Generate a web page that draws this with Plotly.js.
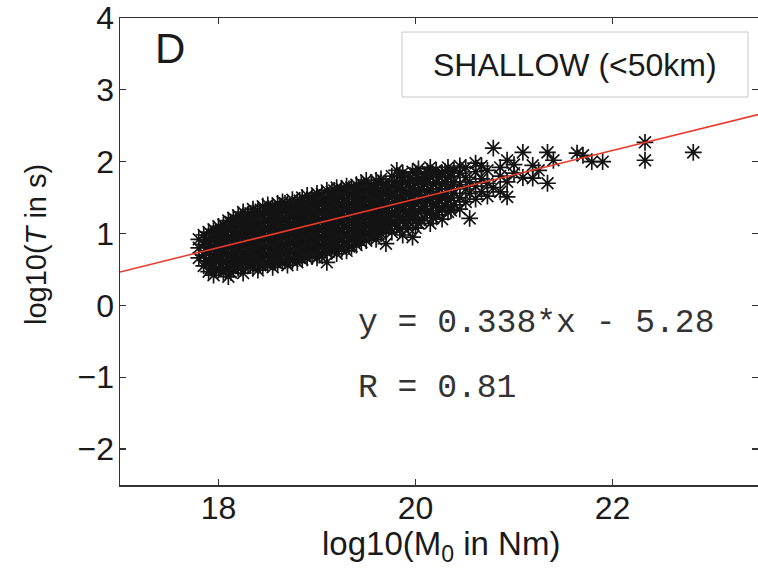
<!DOCTYPE html>
<html>
<head>
<meta charset="utf-8">
<script src="https://cdn.plot.ly/plotly-3.0.1.min.js"></script>
<style>html,body{margin:0;padding:0;background:#fff;overflow:hidden}</style>
</head>
<body>
<div id="chart" style="width:758px;height:568px"></div>
<script>
// ---- data ----
// dense cluster: column positions (log10 M0) and the log10 T values in each column
const clusterX = [17.80,17.85,17.90,17.95,18.00,18.05,18.10,18.15,18.20,18.25,18.30,18.35,18.40,18.45,18.50,18.55,18.60,18.65,18.70,18.75,18.80,18.85,18.90,18.95,19.00,19.05,19.10,19.15,19.20,19.25,19.30,19.35,19.40,19.45,19.50,19.55,19.60,19.65,19.70,19.76,19.81,19.87,19.93,19.97,20.03,20.09,20.15,20.21,20.27,20.33,20.39,20.45,20.51,20.55,20.61,20.67,20.73,20.79,20.86,20.93];
const clusterY = [
 [0.66,0.80,0.92],
 [0.55,0.70,0.85,0.98],
 [0.47,0.62,0.75,0.88,1.02],
 [0.42,0.58,0.70,0.82,0.95,1.06],
 [0.50,0.64,0.78,0.90,1.00,1.10],
 [0.46,0.60,0.72,0.85,0.97,1.12],
 [0.40,0.54,0.68,0.80,0.92,1.04,1.18],
 [0.50,0.62,0.74,0.86,0.98,1.10,1.22],
 [0.52,0.65,0.77,0.90,1.02,1.14,1.25],
 [0.45,0.60,0.72,0.84,0.96,1.08,1.20,1.30],
 [0.55,0.67,0.80,0.92,1.04,1.16,1.27],
 [0.52,0.64,0.76,0.88,1.00,1.12,1.24,1.34],
 [0.49,0.62,0.74,0.86,0.98,1.10,1.22,1.32],
 [0.55,0.66,0.78,0.90,1.02,1.14,1.26,1.38],
 [0.57,0.70,0.82,0.94,1.06,1.18,1.30,1.40],
 [0.53,0.66,0.78,0.90,1.02,1.14,1.26,1.37],
 [0.58,0.70,0.82,0.94,1.06,1.18,1.30,1.42],
 [0.60,0.72,0.84,0.96,1.08,1.20,1.32,1.44],
 [0.56,0.68,0.80,0.92,1.04,1.16,1.28,1.40],
 [0.62,0.74,0.86,0.98,1.10,1.22,1.34,1.47],
 [0.60,0.72,0.84,0.96,1.08,1.20,1.32,1.44],
 [0.64,0.76,0.88,1.00,1.12,1.24,1.36,1.50],
 [0.66,0.78,0.90,1.02,1.14,1.26,1.38,1.53],
 [0.68,0.80,0.92,1.04,1.16,1.28,1.40,1.50],
 [0.66,0.78,0.90,1.02,1.14,1.26,1.38,1.50,1.56],
 [0.72,0.84,0.96,1.08,1.20,1.32,1.44,1.55],
 [0.60,0.74,0.86,0.98,1.10,1.22,1.34,1.46,1.60],
 [0.76,0.88,1.00,1.12,1.24,1.36,1.48,1.58],
 [0.72,0.84,0.96,1.08,1.20,1.32,1.44,1.56,1.64],
 [0.78,0.90,1.02,1.14,1.26,1.38,1.50,1.62],
 [0.76,0.88,1.00,1.12,1.24,1.36,1.48,1.60,1.66],
 [0.82,0.94,1.06,1.18,1.30,1.42,1.54,1.64],
 [0.84,0.96,1.08,1.20,1.32,1.44,1.56,1.68],
 [0.88,1.00,1.12,1.24,1.36,1.48,1.60,1.70],
 [0.90,1.02,1.14,1.26,1.38,1.50,1.62,1.74],
 [0.96,1.08,1.20,1.32,1.44,1.56,1.68],
 [0.92,1.04,1.16,1.28,1.40,1.52,1.64,1.74],
 [1.00,1.12,1.24,1.36,1.48,1.60,1.76],
 [0.86,1.06,1.18,1.30,1.42,1.54,1.68],
 [1.02,1.14,1.28,1.40,1.52,1.66,1.80],
 [1.10,1.24,1.36,1.50,1.64,1.88],
 [0.98,1.18,1.32,1.46,1.60,1.74,1.84],
 [1.08,1.26,1.40,1.54,1.70],
 [0.95,1.20,1.34,1.48,1.64,1.86],
 [1.14,1.30,1.44,1.58,1.76,1.90],
 [1.22,1.38,1.52,1.68,1.82],
 [1.14,1.32,1.48,1.62,1.78,1.92],
 [1.26,1.42,1.56,1.72,1.88],
 [1.20,1.36,1.52,1.68,1.84],
 [1.30,1.46,1.62,1.78,1.92],
 [1.40,1.56,1.72,1.88],
 [1.34,1.50,1.68,1.84,1.94],
 [1.44,1.62,1.78,1.92],
 [1.21,1.56,1.72],
 [1.48,1.66,1.86,1.98],
 [1.58,1.76,1.94],
 [1.52,1.70,1.88],
 [1.64,2.19],
 [1.58,1.80,1.92],
 [1.51,1.72,2.02]
];
// interior of the dense core (points hidden between the columns above)
const coreX = [17.875,17.925,17.975,18.025,18.075,18.125,18.175,18.225,18.275,18.325,18.375,18.425,18.475,18.525,18.575,18.625,18.675,18.725,18.775,18.825,18.875,18.925,18.975,19.025,19.075,19.125,19.175,19.225,19.275,19.325,19.375,19.425,19.475,19.525,19.575,19.625,19.675,19.73,19.79,19.84,19.90,19.95,20.00,20.06,20.12,20.18,20.24,20.30,20.36];
const coreY = [
 [0.62,0.76,0.90],
 [0.52,0.66,0.80,0.94],
 [0.50,0.64,0.76,0.88,1.00],
 [0.54,0.68,0.80,0.92,1.04],
 [0.50,0.62,0.74,0.86,0.98,1.08],
 [0.46,0.58,0.70,0.82,0.94,1.06,1.16],
 [0.56,0.68,0.80,0.92,1.04,1.16],
 [0.52,0.64,0.76,0.88,1.00,1.12,1.22],
 [0.58,0.70,0.82,0.94,1.06,1.18],
 [0.56,0.68,0.80,0.92,1.04,1.16,1.28],
 [0.58,0.70,0.82,0.94,1.06,1.18,1.30],
 [0.56,0.68,0.80,0.92,1.04,1.16,1.28],
 [0.60,0.72,0.84,0.96,1.08,1.20,1.32],
 [0.62,0.74,0.86,0.98,1.10,1.22,1.34],
 [0.60,0.72,0.84,0.96,1.08,1.20,1.32],
 [0.64,0.76,0.88,1.00,1.12,1.24,1.36],
 [0.62,0.74,0.86,0.98,1.10,1.22,1.34,1.42],
 [0.64,0.76,0.88,1.00,1.12,1.24,1.36],
 [0.68,0.80,0.92,1.04,1.16,1.28,1.40],
 [0.66,0.78,0.90,1.02,1.14,1.26,1.38,1.46],
 [0.70,0.82,0.94,1.06,1.18,1.30,1.42],
 [0.72,0.84,0.96,1.08,1.20,1.32,1.44],
 [0.74,0.86,0.98,1.10,1.22,1.34,1.46],
 [0.70,0.82,0.94,1.06,1.18,1.30,1.42,1.50],
 [0.78,0.90,1.02,1.14,1.26,1.38,1.50],
 [0.80,0.92,1.04,1.16,1.28,1.40,1.52],
 [0.78,0.90,1.02,1.14,1.26,1.38,1.50,1.60],
 [0.82,0.94,1.06,1.18,1.30,1.42,1.54],
 [0.84,0.96,1.08,1.20,1.32,1.44,1.56],
 [0.82,0.94,1.06,1.18,1.30,1.42,1.54,1.62],
 [0.88,1.00,1.12,1.24,1.36,1.48,1.60],
 [0.92,1.04,1.16,1.28,1.40,1.52,1.64],
 [0.96,1.08,1.20,1.32,1.44,1.56,1.66],
 [0.98,1.10,1.22,1.34,1.46,1.58],
 [1.02,1.14,1.26,1.38,1.50,1.62],
 [1.00,1.12,1.24,1.36,1.48,1.60,1.70],
 [1.08,1.20,1.32,1.44,1.56,1.68],
 [1.10,1.24,1.38,1.52,1.64],
 [1.16,1.30,1.44,1.58,1.72],
 [1.06,1.22,1.38,1.52,1.68,1.80],
 [1.14,1.30,1.44,1.58,1.72],
 [1.22,1.38,1.56,1.78],
 [1.08,1.28,1.42,1.54,1.70,1.84],
 [1.18,1.34,1.48,1.62,1.76],
 [1.28,1.44,1.58,1.72,1.86],
 [1.22,1.38,1.52,1.68,1.82],
 [1.32,1.48,1.62,1.78],
 [1.38,1.56,1.72,1.86],
 [1.32,1.50,1.66,1.80]
];
// sparse large events
const tailX = [21.00,21.00,21.09,21.09,21.19,21.19,21.25,21.34,21.34,21.40,21.64,21.70,21.79,21.90,22.33,22.33,22.82];
const tailY = [1.84,1.96,1.78,2.13,1.77,1.95,1.88,1.70,2.13,2.02,2.12,2.09,2.00,2.00,2.02,2.27,2.13];

// regression line as stated on the chart
const fitSlope = 0.338;
const fitIntercept = -5.28;
const fitX = [17, 23.6];

const xTicks = [18, 20, 22];
const yTicks = [-2, -1, 0, 1, 2, 3, 4];
const panelLabel = 'D';
const boxLabel = 'SHALLOW (&lt;50km)';
const eqLabel = 'y = 0.338*x - 5.28';
const rLabel = 'R = 0.81';

// ---- build traces ----
const px = [], py = [];
clusterX.forEach((x, i) => clusterY[i].forEach(y => { px.push(x); py.push(y); }));
coreX.forEach((x, i) => coreY[i].forEach(y => { px.push(x); py.push(y); }));
tailX.forEach((x, i) => { px.push(x); py.push(tailY[i]); });

const fitY = fitX.map(x => fitSlope * x + fitIntercept);

const scatter = {
  x: px, y: py, type: 'scatter', mode: 'markers',
  marker: { symbol: 'asterisk-open', size: 14, color: '#141414', line: { color: '#141414', width: 1.7 } },
  hoverinfo: 'skip'
};
const line = {
  x: fitX, y: fitY, type: 'scatter', mode: 'lines',
  line: { color: '#e8392a', width: 1.5 }, hoverinfo: 'skip'
};

const W = 758, H = 568, L = 120, T = 18, R = 0, B = 83;
const pw = W - L - R, ph = H - T - B;
const paperX = p => (p - L) / pw;
const paperY = p => (H - B - p) / ph;

const sans = 'Arial, "Liberation Sans", sans-serif';
const axisFont = { family: sans, size: 32, color: '#1a1a1a' };

const layout = {
  width: W, height: H,
  margin: { l: L, r: R, t: T, b: B, pad: 0 },
  paper_bgcolor: '#fff', plot_bgcolor: '#fff',
  showlegend: false,
  xaxis: {
    range: [17, 17 + pw / 98.5], tickvals: xTicks, ticks: 'inside', ticklen: 6, tickwidth: 1.2,
    tickcolor: '#333', showline: true, linecolor: '#333', linewidth: 1.5, mirror: 'ticks',
    showgrid: false, zeroline: false, tickfont: axisFont, ticklabelstandoff: -6
  },
  yaxis: {
    range: [-2.5, 4], tickvals: yTicks, ticks: 'inside', ticklen: 6, tickwidth: 1.2,
    tickcolor: '#333', showline: true, linecolor: '#333', linewidth: 1.5, mirror: 'ticks',
    showgrid: false, zeroline: false, tickfont: axisFont, ticklabelstandoff: -2
  },
  shapes: [{
    type: 'rect', xref: 'paper', yref: 'paper',
    x0: paperX(402), x1: paperX(748), y0: paperY(97), y1: paperY(32),
    line: { color: '#c8c8c8', width: 1 }, fillcolor: 'rgba(255,255,255,0)'
  }],
  annotations: [
    { text: panelLabel, xref: 'paper', yref: 'paper', x: paperX(170), y: paperY(48), xanchor: 'center', yanchor: 'middle', showarrow: false,
      font: { family: sans, size: 42, color: '#1a1a1a' } },
    { text: boxLabel, xref: 'paper', yref: 'paper', x: paperX(575), y: paperY(65), xanchor: 'center', yanchor: 'middle', showarrow: false,
      font: { family: sans, size: 32, color: '#1a1a1a' } },
    { text: eqLabel, xref: 'paper', yref: 'paper', x: paperX(356), y: paperY(323), xanchor: 'left', yanchor: 'middle', showarrow: false,
      font: { family: '"Liberation Mono", "Courier New", monospace', size: 33, color: '#333' } },
    { text: rLabel, xref: 'paper', yref: 'paper', x: paperX(356), y: paperY(388), xanchor: 'left', yanchor: 'middle', showarrow: false,
      font: { family: '"Liberation Mono", "Courier New", monospace', size: 33, color: '#333' } },
    { text: 'log10(M<sub>0</sub> in Nm)', xref: 'paper', yref: 'paper', x: paperX(441), y: paperY(523), xanchor: 'center', yanchor: 'top', showarrow: false,
      font: { family: sans, size: 33, color: '#1a1a1a' } },
    { text: 'log10(<i>T</i> in s)', xref: 'paper', yref: 'paper', x: paperX(36), y: paperY(245), xanchor: 'center', yanchor: 'middle', textangle: -90, showarrow: false,
      font: { family: sans, size: 29, color: '#1a1a1a' } }
  ]
};

Plotly.newPlot('chart', [scatter, line], layout, { staticPlot: true, displayModeBar: false });
</script>
</body>
</html>
